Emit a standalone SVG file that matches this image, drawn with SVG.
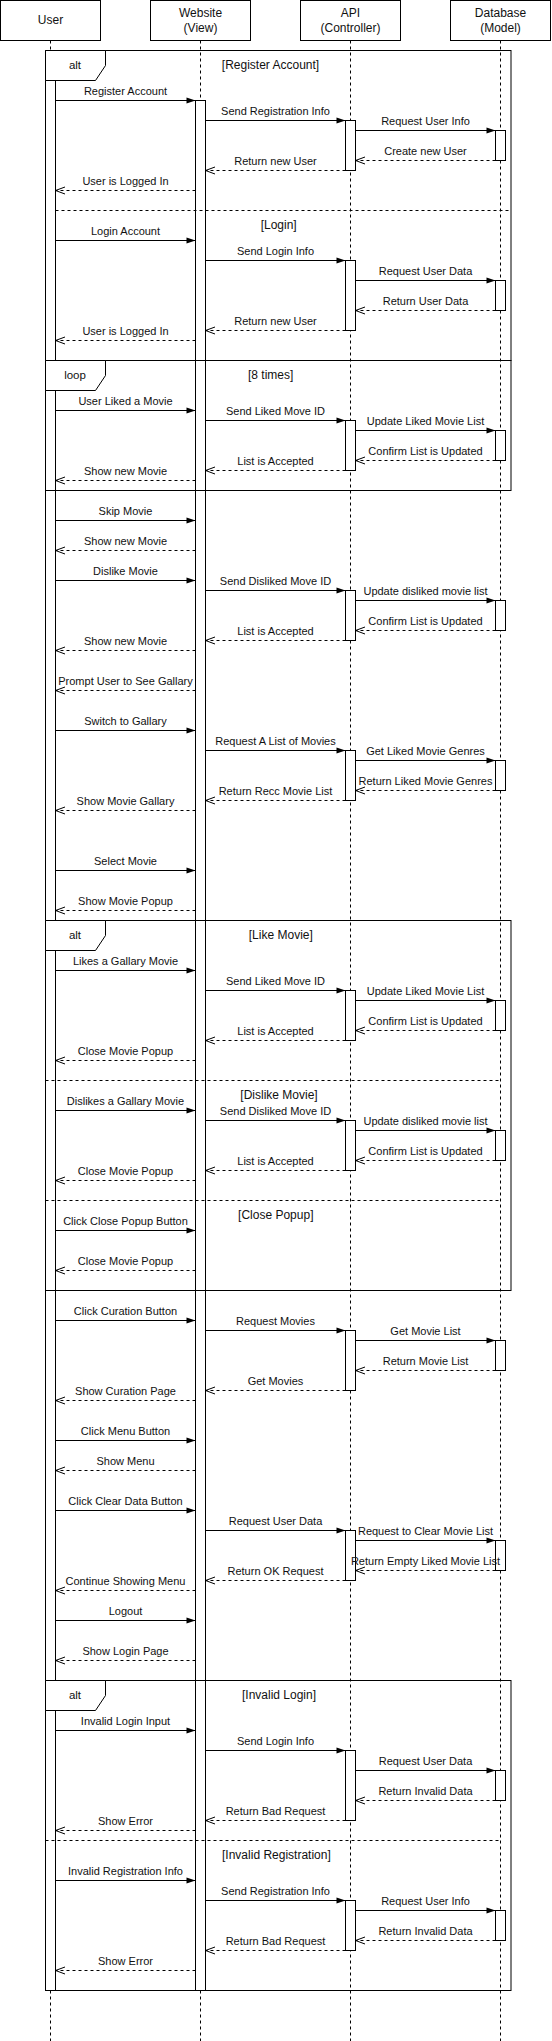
<svg xmlns="http://www.w3.org/2000/svg" width="552" height="2041" viewBox="0 0 552 2041">
<style>
.box{fill:#fff;stroke:#000;stroke-width:1}
.life{stroke:#000;stroke-width:1;stroke-dasharray:3 3;fill:none}
.bar{fill:#fff;stroke:#000;stroke-width:1}
.frame{fill:none;stroke:#000;stroke-width:1}
.flabel{fill:#fff;stroke:#000;stroke-width:1}
.sep{stroke:#000;stroke-width:1;stroke-dasharray:3 3;fill:none}
.msg{stroke:#000;stroke-width:1;fill:none;marker-end:url(#fa)}
.ret{stroke:#000;stroke-width:1;fill:none;stroke-dasharray:3 3;marker-end:url(#oa)}
text{font-family:"Liberation Sans",Arial,Helvetica,sans-serif;fill:#111;text-anchor:middle}
.pt{font-size:12px}
.ml{font-size:11px}
.gl{font-size:12px}
.fl{font-size:11.5px}
</style>
<defs>
<marker id="fa" viewBox="0 0 9 6" refX="9" refY="3" markerWidth="9" markerHeight="6" orient="auto" markerUnits="userSpaceOnUse" overflow="visible"><path d="M0,0 L9,3 L0,6 Z" fill="#000"/></marker>
<marker id="oa" viewBox="0 0 10 8" refX="9.5" refY="4" markerWidth="10" markerHeight="8" orient="auto" markerUnits="userSpaceOnUse" overflow="visible"><path d="M0,0.5 L9.5,4 L0,7.5" fill="none" stroke="#000" stroke-width="1"/></marker>
</defs>
<rect x="0" y="0" width="552" height="2041" fill="#fff"/>

<!-- participants -->
<g id="user">
<path class="life" d="M50.5 40.5V2041"/>
<rect class="box" x="0.5" y="0.5" width="100" height="40"/>
<text class="pt" x="50.5" y="24.2">User</text>
</g>
<g id="website">
<path class="life" d="M200.5 40.5V2041"/>
<rect class="box" x="150.5" y="0.5" width="100" height="40"/>
<text class="pt" x="200.5" y="17">Website</text>
<text class="pt" x="200.5" y="32">(View)</text>
</g>
<g id="api">
<path class="life" d="M350.5 40.5V2041"/>
<rect class="box" x="300.5" y="0.5" width="100" height="40"/>
<text class="pt" x="350.5" y="17">API</text>
<text class="pt" x="350.5" y="32">(Controller)</text>
</g>
<g id="database">
<path class="life" d="M500.5 40.5V2041"/>
<rect class="box" x="450.5" y="0.5" width="100" height="40"/>
<text class="pt" x="500.5" y="17">Database</text>
<text class="pt" x="500.5" y="32">(Model)</text>
</g>

<!-- activation bars -->
<g id="activations">
<rect class="bar" x="45.5" y="80.5" width="10" height="1910"/>
<rect class="bar" x="195.5" y="100.5" width="10" height="1890"/>
<rect class="bar" x="345.5" y="120.5" width="10" height="50"/>
<rect class="bar" x="345.5" y="260.5" width="10" height="70"/>
<rect class="bar" x="345.5" y="420.5" width="10" height="50"/>
<rect class="bar" x="345.5" y="590.5" width="10" height="50"/>
<rect class="bar" x="345.5" y="750.5" width="10" height="50"/>
<rect class="bar" x="345.5" y="990.5" width="10" height="50"/>
<rect class="bar" x="345.5" y="1120.5" width="10" height="50"/>
<rect class="bar" x="345.5" y="1330.5" width="10" height="60"/>
<rect class="bar" x="345.5" y="1530.5" width="10" height="50"/>
<rect class="bar" x="345.5" y="1750.5" width="10" height="70"/>
<rect class="bar" x="345.5" y="1900.5" width="10" height="50"/>
<rect class="bar" x="495.5" y="130.5" width="10" height="30"/>
<rect class="bar" x="495.5" y="280.5" width="10" height="30"/>
<rect class="bar" x="495.5" y="430.5" width="10" height="30"/>
<rect class="bar" x="495.5" y="600.5" width="10" height="30"/>
<rect class="bar" x="495.5" y="760.5" width="10" height="30"/>
<rect class="bar" x="495.5" y="1000.5" width="10" height="30"/>
<rect class="bar" x="495.5" y="1130.5" width="10" height="30"/>
<rect class="bar" x="495.5" y="1340.5" width="10" height="30"/>
<rect class="bar" x="495.5" y="1540.5" width="10" height="30"/>
<rect class="bar" x="495.5" y="1770.5" width="10" height="30"/>
<rect class="bar" x="495.5" y="1910.5" width="10" height="30"/>
</g>

<!-- frames -->
<g id="alt-register-login">
<rect class="frame" x="45.5" y="50.5" width="465.5" height="310"/>
<path class="flabel" d="M45.5 50.5H105.5V65.5L95.5 80.5H45.5Z"/>
<text class="fl" x="75" y="69">alt</text>
<text class="gl" x="270.5" y="69.2">[Register Account]</text>
<path class="sep" d="M55.5 210.5H511"/>
<text class="gl" x="278.7" y="228.5">[Login]</text>
</g>
<g id="loop-8-times">
<rect class="frame" x="45.5" y="360.5" width="465.5" height="130"/>
<path class="flabel" d="M45.5 360.5H105.5V375.5L95.5 390.5H45.5Z"/>
<text class="fl" x="75" y="379">loop</text>
<text class="gl" x="270.7" y="378.9">[8 times]</text>
</g>
<g id="alt-gallery">
<rect class="frame" x="45.5" y="920.5" width="465.5" height="370"/>
<path class="flabel" d="M45.5 920.5H105.5V935.5L95.5 950.5H45.5Z"/>
<text class="fl" x="75" y="939">alt</text>
<text class="gl" x="280.8" y="939.2">[Like Movie]</text>
<path class="sep" d="M45.5 1080.5H500.5"/>
<text class="gl" x="279" y="1099.2">[Dislike Movie]</text>
<path class="sep" d="M45.5 1200.5H500.5"/>
<text class="gl" x="275.8" y="1219.2">[Close Popup]</text>
</g>
<g id="alt-invalid">
<rect class="frame" x="45.5" y="1680.5" width="465.5" height="310"/>
<path class="flabel" d="M45.5 1680.5H105.5V1695.5L95.5 1710.5H45.5Z"/>
<text class="fl" x="75" y="1699">alt</text>
<text class="gl" x="279" y="1698.5">[Invalid Login]</text>
<path class="sep" d="M45.5 1840.5H500.5"/>
<text class="gl" x="276.4" y="1859.2">[Invalid Registration]</text>
</g>

<!-- connectors -->
<g id="connectors">
<path class="msg" d="M55.5 100.5H195.5"/>
<path class="msg" d="M205.5 120.5H345.5"/>
<path class="msg" d="M355.5 130.5H495.5"/>
<path class="ret" d="M495.5 160.5H355.5"/>
<path class="ret" d="M345.5 170.5H205.5"/>
<path class="ret" d="M195.5 190.5H55.5"/>
<path class="msg" d="M55.5 240.5H195.5"/>
<path class="msg" d="M205.5 260.5H345.5"/>
<path class="msg" d="M355.5 280.5H495.5"/>
<path class="ret" d="M495.5 310.5H355.5"/>
<path class="ret" d="M345.5 330.5H205.5"/>
<path class="ret" d="M195.5 340.5H55.5"/>
<path class="msg" d="M55.5 410.5H195.5"/>
<path class="msg" d="M205.5 420.5H345.5"/>
<path class="msg" d="M355.5 430.5H495.5"/>
<path class="ret" d="M495.5 460.5H355.5"/>
<path class="ret" d="M345.5 470.5H205.5"/>
<path class="ret" d="M195.5 480.5H55.5"/>
<path class="msg" d="M55.5 520.5H195.5"/>
<path class="ret" d="M195.5 550.5H55.5"/>
<path class="msg" d="M55.5 580.5H195.5"/>
<path class="msg" d="M205.5 590.5H345.5"/>
<path class="msg" d="M355.5 600.5H495.5"/>
<path class="ret" d="M495.5 630.5H355.5"/>
<path class="ret" d="M345.5 640.5H205.5"/>
<path class="ret" d="M195.5 650.5H55.5"/>
<path class="ret" d="M195.5 690.5H55.5"/>
<path class="msg" d="M55.5 730.5H195.5"/>
<path class="msg" d="M205.5 750.5H345.5"/>
<path class="msg" d="M355.5 760.5H495.5"/>
<path class="ret" d="M495.5 790.5H355.5"/>
<path class="ret" d="M345.5 800.5H205.5"/>
<path class="ret" d="M195.5 810.5H55.5"/>
<path class="msg" d="M55.5 870.5H195.5"/>
<path class="ret" d="M195.5 910.5H55.5"/>
<path class="msg" d="M55.5 970.5H195.5"/>
<path class="msg" d="M205.5 990.5H345.5"/>
<path class="msg" d="M355.5 1000.5H495.5"/>
<path class="ret" d="M495.5 1030.5H355.5"/>
<path class="ret" d="M345.5 1040.5H205.5"/>
<path class="ret" d="M195.5 1060.5H55.5"/>
<path class="msg" d="M55.5 1110.5H195.5"/>
<path class="msg" d="M205.5 1120.5H345.5"/>
<path class="msg" d="M355.5 1130.5H495.5"/>
<path class="ret" d="M495.5 1160.5H355.5"/>
<path class="ret" d="M345.5 1170.5H205.5"/>
<path class="ret" d="M195.5 1180.5H55.5"/>
<path class="msg" d="M55.5 1230.5H195.5"/>
<path class="ret" d="M195.5 1270.5H55.5"/>
<path class="msg" d="M55.5 1320.5H195.5"/>
<path class="msg" d="M205.5 1330.5H345.5"/>
<path class="msg" d="M355.5 1340.5H495.5"/>
<path class="ret" d="M495.5 1370.5H355.5"/>
<path class="ret" d="M345.5 1390.5H205.5"/>
<path class="ret" d="M195.5 1400.5H55.5"/>
<path class="msg" d="M55.5 1440.5H195.5"/>
<path class="ret" d="M195.5 1470.5H55.5"/>
<path class="msg" d="M55.5 1510.5H195.5"/>
<path class="msg" d="M205.5 1530.5H345.5"/>
<path class="msg" d="M355.5 1540.5H495.5"/>
<path class="ret" d="M495.5 1570.5H355.5"/>
<path class="ret" d="M345.5 1580.5H205.5"/>
<path class="ret" d="M195.5 1590.5H55.5"/>
<path class="msg" d="M55.5 1620.5H195.5"/>
<path class="ret" d="M195.5 1660.5H55.5"/>
<path class="msg" d="M55.5 1730.5H195.5"/>
<path class="msg" d="M205.5 1750.5H345.5"/>
<path class="msg" d="M355.5 1770.5H495.5"/>
<path class="ret" d="M495.5 1800.5H355.5"/>
<path class="ret" d="M345.5 1820.5H205.5"/>
<path class="ret" d="M195.5 1830.5H55.5"/>
<path class="msg" d="M55.5 1880.5H195.5"/>
<path class="msg" d="M205.5 1900.5H345.5"/>
<path class="msg" d="M355.5 1910.5H495.5"/>
<path class="ret" d="M495.5 1940.5H355.5"/>
<path class="ret" d="M345.5 1950.5H205.5"/>
<path class="ret" d="M195.5 1970.5H55.5"/>
</g>

<!-- connector labels -->
<g id="connector-labels">
<text class="ml" x="125.5" y="94.6">Register Account</text>
<text class="ml" x="275.5" y="114.6">Send Registration Info</text>
<text class="ml" x="425.5" y="124.6">Request User Info</text>
<text class="ml" x="425.5" y="154.6">Create new User</text>
<text class="ml" x="275.5" y="164.6">Return new User</text>
<text class="ml" x="125.5" y="184.6">User is Logged In</text>
<text class="ml" x="125.5" y="234.6">Login Account</text>
<text class="ml" x="275.5" y="254.6">Send Login Info</text>
<text class="ml" x="425.5" y="274.6">Request User Data</text>
<text class="ml" x="425.5" y="304.6">Return User Data</text>
<text class="ml" x="275.5" y="324.6">Return new User</text>
<text class="ml" x="125.5" y="334.6">User is Logged In</text>
<text class="ml" x="125.5" y="404.6">User Liked a Movie</text>
<text class="ml" x="275.5" y="414.6">Send Liked Move ID</text>
<text class="ml" x="425.5" y="424.6">Update Liked Movie List</text>
<text class="ml" x="425.5" y="454.6">Confirm List is Updated</text>
<text class="ml" x="275.5" y="464.6">List is Accepted</text>
<text class="ml" x="125.5" y="474.6">Show new Movie</text>
<text class="ml" x="125.5" y="514.6">Skip Movie</text>
<text class="ml" x="125.5" y="544.6">Show new Movie</text>
<text class="ml" x="125.5" y="574.6">Dislike Movie</text>
<text class="ml" x="275.5" y="584.6">Send Disliked Move ID</text>
<text class="ml" x="425.5" y="594.6">Update disliked movie list</text>
<text class="ml" x="425.5" y="624.6">Confirm List is Updated</text>
<text class="ml" x="275.5" y="634.6">List is Accepted</text>
<text class="ml" x="125.5" y="644.6">Show new Movie</text>
<text class="ml" x="125.5" y="684.6">Prompt User to See Gallary</text>
<text class="ml" x="125.5" y="724.6">Switch to Gallary</text>
<text class="ml" x="275.5" y="744.6">Request A List of Movies</text>
<text class="ml" x="425.5" y="754.6">Get Liked Movie Genres</text>
<text class="ml" x="425.5" y="784.6">Return Liked Movie Genres</text>
<text class="ml" x="275.5" y="794.6">Return Recc Movie List</text>
<text class="ml" x="125.5" y="804.6">Show Movie Gallary</text>
<text class="ml" x="125.5" y="864.6">Select Movie</text>
<text class="ml" x="125.5" y="904.6">Show Movie Popup</text>
<text class="ml" x="125.5" y="964.6">Likes a Gallary Movie</text>
<text class="ml" x="275.5" y="984.6">Send Liked Move ID</text>
<text class="ml" x="425.5" y="994.6">Update Liked Movie List</text>
<text class="ml" x="425.5" y="1024.6">Confirm List is Updated</text>
<text class="ml" x="275.5" y="1034.6">List is Accepted</text>
<text class="ml" x="125.5" y="1054.6">Close Movie Popup</text>
<text class="ml" x="125.5" y="1104.6">Dislikes a Gallary Movie</text>
<text class="ml" x="275.5" y="1114.6">Send Disliked Move ID</text>
<text class="ml" x="425.5" y="1124.6">Update disliked movie list</text>
<text class="ml" x="425.5" y="1154.6">Confirm List is Updated</text>
<text class="ml" x="275.5" y="1164.6">List is Accepted</text>
<text class="ml" x="125.5" y="1174.6">Close Movie Popup</text>
<text class="ml" x="125.5" y="1224.6">Click Close Popup Button</text>
<text class="ml" x="125.5" y="1264.6">Close Movie Popup</text>
<text class="ml" x="125.5" y="1314.6">Click Curation Button</text>
<text class="ml" x="275.5" y="1324.6">Request Movies</text>
<text class="ml" x="425.5" y="1334.6">Get Movie List</text>
<text class="ml" x="425.5" y="1364.6">Return Movie List</text>
<text class="ml" x="275.5" y="1384.6">Get Movies</text>
<text class="ml" x="125.5" y="1394.6">Show Curation Page</text>
<text class="ml" x="125.5" y="1434.6">Click Menu Button</text>
<text class="ml" x="125.5" y="1464.6">Show Menu</text>
<text class="ml" x="125.5" y="1504.6">Click Clear Data Button</text>
<text class="ml" x="275.5" y="1524.6">Request User Data</text>
<text class="ml" x="425.5" y="1534.6">Request to Clear Movie List</text>
<text class="ml" x="425.5" y="1564.6">Return Empty Liked Movie List</text>
<text class="ml" x="275.5" y="1574.6">Return OK Request</text>
<text class="ml" x="125.5" y="1584.6">Continue Showing Menu</text>
<text class="ml" x="125.5" y="1614.6">Logout</text>
<text class="ml" x="125.5" y="1654.6">Show Login Page</text>
<text class="ml" x="125.5" y="1724.6">Invalid Login Input</text>
<text class="ml" x="275.5" y="1744.6">Send Login Info</text>
<text class="ml" x="425.5" y="1764.6">Request User Data</text>
<text class="ml" x="425.5" y="1794.6">Return Invalid Data</text>
<text class="ml" x="275.5" y="1814.6">Return Bad Request</text>
<text class="ml" x="125.5" y="1824.6">Show Error</text>
<text class="ml" x="125.5" y="1874.6">Invalid Registration Info</text>
<text class="ml" x="275.5" y="1894.6">Send Registration Info</text>
<text class="ml" x="425.5" y="1904.6">Request User Info</text>
<text class="ml" x="425.5" y="1934.6">Return Invalid Data</text>
<text class="ml" x="275.5" y="1944.6">Return Bad Request</text>
<text class="ml" x="125.5" y="1964.6">Show Error</text>
</g>
</svg>
